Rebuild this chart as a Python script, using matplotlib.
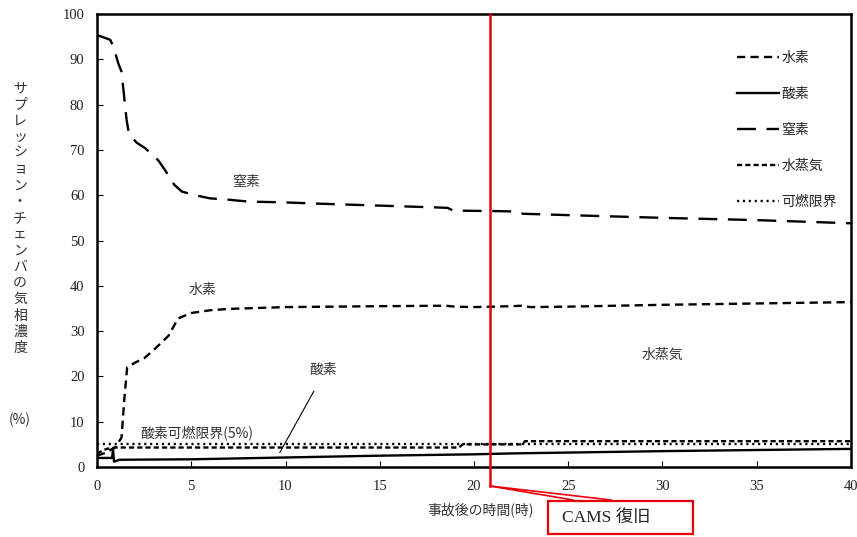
import matplotlib
matplotlib.use("Agg")
import matplotlib.pyplot as plt
from matplotlib.lines import Line2D
from matplotlib.patches import Rectangle

JP = ["Noto Sans CJK JP", "DejaVu Sans"]
SERIF = ["Liberation Serif", "Noto Sans CJK JP"]
plt.rcParams["font.family"] = JP

# gas concentrations in the suppression chamber (%), hours after accident
n2_t = [0, 0.25, 0.7, 0.87, 1.13, 1.3, 1.57, 1.7, 2.1, 2.55, 3.25, 3.6, 4.1, 4.5,
        5.2, 6, 7, 8, 10, 12, 15, 18, 18.6, 18.9, 21, 22.3, 22.6, 25, 30, 35, 40]
n2_v = [95.3, 95.0, 94.3, 92.8, 89.1, 87.3, 76.6, 73.5, 71.6, 70.4, 67.7, 65.6,
        62.3, 60.8, 60.0, 59.3, 59.0, 58.6, 58.4, 58.1, 57.7, 57.3, 57.2, 56.6,
        56.5, 56.4, 55.9, 55.6, 55.0, 54.5, 53.8]

h2_t = [0, 0.5, 1.0, 1.3, 1.45, 1.6, 2.0, 2.5, 3.0, 3.8, 4.3, 5.0, 6, 7, 10, 15,
        18.5, 19, 20, 22, 22.5, 23, 25, 30, 35, 40]
h2_v = [2.5, 3.2, 4.5, 6.5, 15.0, 22.0, 23.0, 24.0, 25.8, 29.0, 32.8, 34.0, 34.6,
        34.9, 35.3, 35.5, 35.6, 35.4, 35.3, 35.5, 35.6, 35.3, 35.4, 35.8, 36.1, 36.4]

o2_t = [0, 0.8, 0.85, 0.9, 1.2, 5, 10, 15, 20, 22, 30, 40]
o2_v = [2.0, 2.0, 4.0, 1.2, 1.6, 1.7, 2.1, 2.5, 2.8, 3.0, 3.5, 4.0]

h2o_t = [0, 0.5, 1.0, 19.2, 19.4, 22.6, 22.7, 40]
h2o_v = [3.0, 4.0, 4.3, 4.3, 5.0, 5.0, 5.7, 5.7]

limit_t = [0, 40]
limit_v = [5.0, 5.0]

CAMS_TIME = 20.85

fig = plt.figure(figsize=(8.57, 5.37), dpi=100)
ax = fig.add_axes([97 / 857, 1 - 467 / 537, 754 / 857, 453 / 537])

lw = 1.7
ax.plot(h2_t, h2_v, color="black", lw=lw, linestyle=(0, (3.5, 2.2)), label="水素")
ax.plot(o2_t, o2_v, color="black", lw=lw, linestyle="-", label="酸素")
ax.plot(n2_t, n2_v, color="black", lw=lw, linestyle=(0, (8, 4.5)), label="窒素")
ax.plot(h2o_t, h2o_v, color="black", lw=lw, linestyle=(0, (2.2, 1.3)), label="水蒸気")
ax.plot(limit_t, limit_v, color="black", lw=lw, linestyle=(0, (0.9, 1.6)), label="可燃限界")

ax.set_xlim(0, 40)
ax.set_ylim(0, 100)
ax.set_xticks(range(0, 41, 5))
ax.set_yticks(range(0, 101, 10))
ax.tick_params(direction="in", length=4, width=0.8, pad=9, labelsize=10.5)
for lab in ax.get_xticklabels() + ax.get_yticklabels():
    lab.set_family(SERIF)
    lab.set_color("#222")
for sp in ax.spines.values():
    sp.set_linewidth(1.8)

leg = ax.legend(loc="upper left", bbox_to_anchor=(0.849, 0.918), frameon=False,
                fontsize=10, handlelength=3.0, handletextpad=0.2, labelspacing=1.58,
                borderpad=0, borderaxespad=0)
for t in leg.get_texts():
    t.set_color("#222")

# in-plot labels
txt = dict(fontsize=10, color="#333", ha="center", va="center")
ax.text(7.9, 63.0, "窒素", **txt)
ax.text(5.6, 39.0, "水素", **txt)
ax.text(12.0, 21.5, "酸素", **txt)
ax.text(30.0, 24.8, "水蒸気", **txt)
ax.text(2.3, 7.5, "酸素可燃限界(5%)", fontsize=10, color="#333", ha="left", va="center")
ax.plot([11.5, 9.7], [16.7, 3.2], color="black", lw=0.8)

# CAMS recovery marker
red = "#e8000b"
ax.axvline(CAMS_TIME, color=red, lw=1.8, zorder=5)


def fp(x, y):
    return x / 857, 1 - y / 537


x0, y0 = fp(490, 467)
x1, y1 = fp(490, 486)
fig.add_artist(Line2D([x0, x1], [y0, y1], color=red, lw=1.8, transform=fig.transFigure))
for xe in (573, 611):
    xa, ya = fp(xe, 500)
    fig.add_artist(Line2D([x1, xa], [y1, ya], color=red, lw=1.2, transform=fig.transFigure))
bx, by = fp(548, 534)
fig.add_artist(Rectangle((bx, by), 145 / 857, 33 / 537, fill=False, edgecolor=red,
                         lw=1.6, transform=fig.transFigure))
fig.text(*fp(562, 518), "CAMS 復旧", fontsize=12.5, family=SERIF, color="#222",
         ha="left", va="center")

# axis titles
fig.text(*fp(481, 510), "事故後の時間(時)", fontsize=10, color="#333", ha="center", va="center")
ylab = "サプレッション・チェンバの気相濃度"
for i, ch in enumerate(ylab):
    fig.text(*fp(20, 88 + i * 16.25), ch, fontsize=10, color="#333", ha="center", va="center")
fig.text(*fp(20, 420), "(%)", fontsize=10, color="#333", ha="center", va="center")

fig.savefig("out.png", dpi=100, facecolor="white")
